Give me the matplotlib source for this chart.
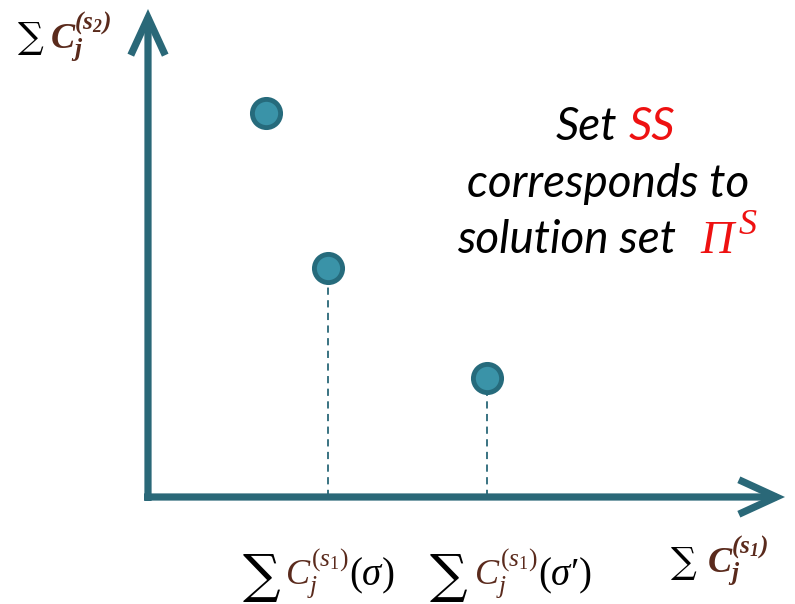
import matplotlib
matplotlib.use("Agg")
import matplotlib.pyplot as plt

plt.rcParams['mathtext.fontset'] = 'custom'
plt.rcParams['mathtext.rm'] = 'Liberation Serif'
plt.rcParams['mathtext.it'] = 'Liberation Serif:italic'
plt.rcParams['mathtext.bf'] = 'Liberation Serif:italic:bold'

# objective values of the three solutions (s1 cost, s2 cost)
sol_x = [118, 180, 339]
sol_y = [384, 229, 119]
# which solutions get a drop line to the s1 axis
dropped = [False, True, True]

axis_color = '#2a6878'
dot_face = '#3a93a8'
dot_edge = '#266b7c'
brown = '#5a2a1c'

W, H = 795, 604
fig = plt.figure(figsize=(W / 100, H / 100), dpi=100)
ax = fig.add_axes([0, 0, 1, 1])
ax.set_xlim(-148, W - 148)
ax.set_ylim(497 - H, 497)
ax.axis('off')

# axes drawn as thick arrows
arrow = dict(arrowstyle='->, head_length=1.35, head_width=0.62', lw=5.2,
             color=axis_color, mutation_scale=20, shrinkA=0, shrinkB=0,
             capstyle='butt', joinstyle='miter')
ax.annotate('', xy=(637, 0), xytext=(-4, 0), arrowprops=arrow)
ax.annotate('', xy=(0, 488), xytext=(0, -4), arrowprops=arrow)

for x, y, d in zip(sol_x, sol_y, dropped):
    if d:
        ax.plot([x, x], [0, y], ls=(0, (4, 3)), lw=1.3, color=axis_color, zorder=1)
ax.plot(sol_x, sol_y, 'o', ms=20.3, mfc=dot_face, mec=dot_edge, mew=3.5, zorder=3)


def ftext(x, y, s, **kw):
    fig.text(x / W, 1 - y / H, s, **kw)


# annotation block
tfont = dict(family='Lato', style='italic', fontsize=33, ha='left', va='baseline')
ftext(556, 140, 'Set', color='black', **tfont)
ftext(629, 140, 'SS', color='#ee1111', **tfont)
ftext(608, 197, 'corresponds to', color='black', **dict(tfont, ha='center'))
ftext(457, 253, 'solution set', color='black', **tfont)
ftext(700, 253, '\u03a0', family='Liberation Serif', style='italic', fontsize=33,
      color='#ee1111', va='baseline')
ftext(739, 234, 'S', family='Liberation Serif', style='italic', fontsize=26,
      color='#ee1111', va='baseline')

# axis labels
sig = dict(family='DejaVu Serif', color='black', va='baseline', ha='left')
ftext(18, 48, '\u2211', fontsize=26, **sig)
ftext(50, 48, r'$\mathbf{C_j^{(s_2)}}$', fontsize=26, color=brown, va='baseline')

ftext(671, 573, '\u2211', fontsize=26, **sig)
ftext(707, 573, r'$\mathbf{C_j^{(s_1)}}$', fontsize=26, color=brown, va='baseline')

ftext(243, 592, '\u2211', fontsize=38, **sig)
ftext(285, 585, r'$C_j^{(s_1)}$', fontsize=26, color=brown, va='baseline')
ftext(349, 585, r'$(\sigma)$', fontsize=28, color='black', va='baseline')

ftext(430, 592, '\u2211', fontsize=38, **sig)
ftext(474, 585, r'$C_j^{(s_1)}$', fontsize=26, color=brown, va='baseline')
ftext(538, 585, r"$(\sigma\prime)$", fontsize=28, color='black', va='baseline')

fig.savefig('out.png', dpi=100, facecolor='white')
